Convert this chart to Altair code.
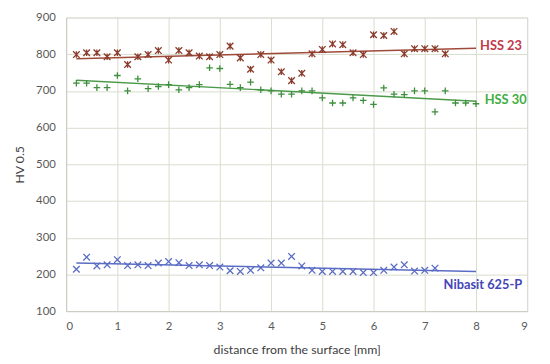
import altair as alt
import pandas as pd

x_hss23 = [round(0.2 * i, 1) for i in range(1, 38)]
hss23 = [799, 804, 804, 793, 804, 772, 793, 799, 810, 784, 810, 804, 795, 793, 799, 822, 790, 759, 799, 784,
         752, 728, 748, 801, 813, 828, 826, 804, 799, 853, 851, 862, 801, 815, 815, 815, 801]
x_hss30 = [round(0.2 * i, 1) for i in range(1, 41)]
hss30 = [721, 721, 709, 709, 742, 700, 733, 706, 712, 717, 703, 709, 717, 763, 761, 718, 709, 724, 703, 700,
         691, 691, 700, 700, 681, 667, 667, 681, 674, 663, 708, 691, 690, 700, 700, 643, 700, 667, 667, 665]
x_nib = [round(0.2 * i, 1) for i in range(1, 37)]
nib = [214, 247, 223, 226, 240, 224, 226, 224, 231, 235, 232, 224, 226, 224, 220, 210, 208, 211, 218, 231,
       231, 249, 223, 211, 208, 208, 208, 208, 205, 205, 211, 220, 226, 209, 211, 217]

x_ticks = list(range(0, 10))
y_ticks = list(range(100, 1000, 100))

series_names = ["HSS 23", "HSS 30", "Nibasit 625-P"]
marker_colors = ["#8a3b2b", "#3d8f3d", "#5a6cc4"]
line_colors = ["#a04a3a", "#4a9a4a", "#5a6cc4"]
label_colors = ["#c0394b", "#3fae3f", "#4446b8"]
label_x = [8.08, 8.17, 8.9]
label_y = [822, 675, 172]
label_align = ["left", "left", "right"]
shapes = ["M-1,-1L1,1M-1,1L1,-1M0,-1L0,1", "M-1,0L1,0M0,-1L0,1", "M-1,-1L1,1M-1,1L1,-1"]

rows = []
for name, xs, ys in zip(series_names, [x_hss23, x_hss30, x_nib], [hss23, hss30, nib]):
    for a, b in zip(xs, ys):
        rows.append({"x": a, "y": b, "series": name})
df = pd.DataFrame(rows)

font = "Lato"
xscale = alt.Scale(domain=[0, 9], nice=False)
yscale = alt.Scale(domain=[100, 900], nice=False)


def xax():
    return alt.Axis(values=x_ticks, title="distance from the surface [mm]", labelPadding=10, titlePadding=12)


def yax():
    return alt.Axis(values=y_ticks, title="HV 0.5", labelPadding=11, titlePadding=9)


layers = []
for i, name in enumerate(series_names):
    sub = df[df.series == name]
    reg = alt.Chart(sub).transform_regression("x", "y", extent=[0.2, 8]).mark_line(
        color=line_colors[i], strokeWidth=1.5).encode(
        x=alt.X("x:Q", scale=xscale, axis=xax()),
        y=alt.Y("y:Q", scale=yscale, axis=yax()),
    )
    pts = alt.Chart(sub).mark_point(shape=shapes[i], filled=False, size=45, strokeWidth=1.3,
                                     color=marker_colors[i], opacity=1).encode(
        x=alt.X("x:Q", scale=xscale, axis=xax()),
        y=alt.Y("y:Q", scale=yscale, axis=yax()),
    )
    lab = alt.Chart(pd.DataFrame({"x": [label_x[i]], "y": [label_y[i]], "t": [name]})).mark_text(
        align=label_align[i], baseline="middle", font=font, fontSize=13, fontWeight="bold",
        color=label_colors[i]).encode(
        x=alt.X("x:Q", scale=xscale, axis=xax()),
        y=alt.Y("y:Q", scale=yscale, axis=yax()),
        text="t:N",
    )
    layers += [reg, pts, lab]

chart = alt.layer(*layers).properties(
    width=468, height=298,
    autosize=alt.AutoSizeParams(type="none"),
    padding={"left": 59, "top": 7, "right": 15, "bottom": 48},
).configure_view(stroke=None).configure(background="white").configure_axis(
    grid=True, gridColor="#d8dccd", domain=True, domainColor="#c8ccc0", ticks=False,
    labelColor="#595959", labelFont=font, labelFontSize=11.5, labelOverlap=False,
    titleFont=font, titleFontSize=12.5, titleFontWeight="normal", titleColor="#404040",
)

chart.save("out.html", embed_options={"renderer": "svg", "actions": False})
